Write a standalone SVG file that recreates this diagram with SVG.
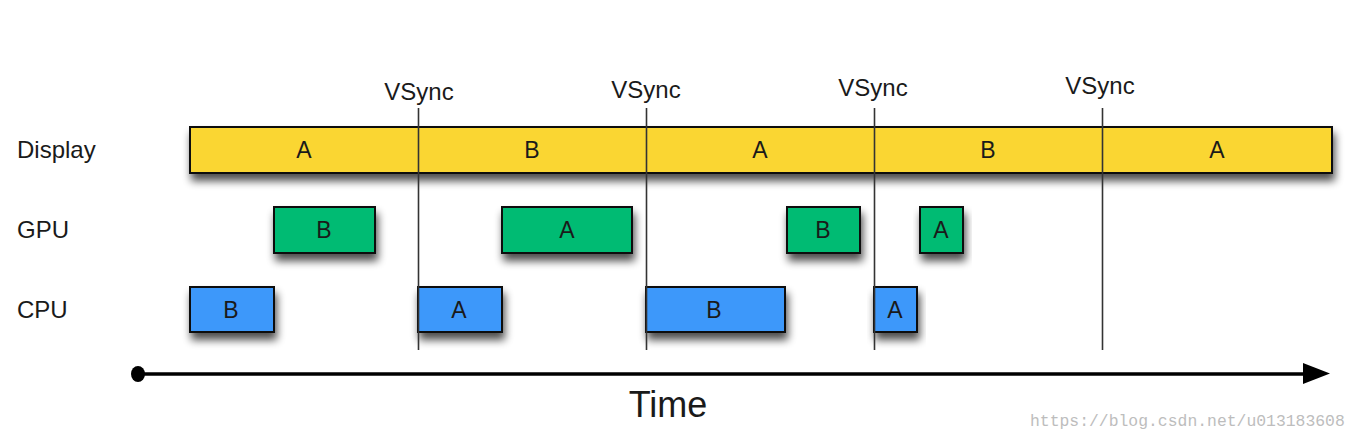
<svg xmlns="http://www.w3.org/2000/svg" width="1356" height="441" viewBox="0 0 1356 441">
<defs>
<filter id="sh" x="-20%" y="-40%" width="140%" height="200%">
<feGaussianBlur in="SourceAlpha" stdDeviation="4"/>
<feOffset dx="2" dy="7" result="b"/>
<feComponentTransfer><feFuncA type="linear" slope="0.7"/></feComponentTransfer>
<feMerge><feMergeNode/><feMergeNode in="SourceGraphic"/></feMerge>
</filter>
</defs>
<style>
text{font-family:"Liberation Sans",Arial,sans-serif;fill:#1a1a1a}
.lbl{font-size:24px}
.vs{font-size:24px;text-anchor:middle}
.box{stroke:#111;stroke-width:2}
.in{font-size:23px;text-anchor:middle}
.disp{fill:#fad630}
.gpu{fill:#00bb73}
.cpu{fill:#3d98fa}
.vl{stroke:#333;stroke-width:1.6}
</style>
<rect width="1356" height="441" fill="#fff"/>
<g id="row-labels">
<text class="lbl" x="17" y="158">Display</text>
<text class="lbl" x="17" y="238">GPU</text>
<text class="lbl" x="17" y="318">CPU</text>
</g>
<g id="display">
<rect class="box disp" x="190" y="127" width="1142" height="46" filter="url(#sh)"/>
<text class="in" x="304" y="158">A</text>
<text class="in" x="532" y="158">B</text>
<text class="in" x="760" y="158">A</text>
<text class="in" x="988" y="158">B</text>
<text class="in" x="1217" y="158">A</text>
</g>
<g id="gpu">
<g id="gpu-b1"><rect class="box gpu" x="274" y="207" width="101" height="46" filter="url(#sh)"/><text class="in" x="324" y="238">B</text></g>
<g id="gpu-a1"><rect class="box gpu" x="502" y="207" width="130" height="46" filter="url(#sh)"/><text class="in" x="567" y="238">A</text></g>
<g id="gpu-b2"><rect class="box gpu" x="787" y="207" width="73" height="46" filter="url(#sh)"/><text class="in" x="823" y="238">B</text></g>
<g id="gpu-a2"><rect class="box gpu" x="920" y="207" width="43" height="46" filter="url(#sh)"/><text class="in" x="941" y="238">A</text></g>
</g>
<g id="cpu">
<g id="cpu-b1"><rect class="box cpu" x="190" y="287" width="84" height="45" filter="url(#sh)"/><text class="in" x="231" y="318">B</text></g>
<g id="cpu-a1"><rect class="box cpu" x="418" y="287" width="84" height="45" filter="url(#sh)"/><text class="in" x="459" y="318">A</text></g>
<g id="cpu-b2"><rect class="box cpu" x="646" y="287" width="139" height="45" filter="url(#sh)"/><text class="in" x="714" y="318">B</text></g>
<g id="cpu-a2"><rect class="box cpu" x="874" y="287" width="43" height="45" filter="url(#sh)"/><text class="in" x="895" y="318">A</text></g>
</g>
<g id="vsync">
<line class="vl" x1="418.5" y1="108" x2="418.5" y2="350"/>
<line class="vl" x1="646.5" y1="108" x2="646.5" y2="350"/>
<line class="vl" x1="874.5" y1="108" x2="874.5" y2="350"/>
<line class="vl" x1="1102.5" y1="108" x2="1102.5" y2="350"/>
<text class="vs" x="419" y="100">VSync</text>
<text class="vs" x="646" y="98">VSync</text>
<text class="vs" x="873" y="96">VSync</text>
<text class="vs" x="1100" y="94">VSync</text>
</g>
<g id="time-axis">
<ellipse cx="138" cy="374" rx="7" ry="8" fill="#000"/>
<line x1="138" y1="374" x2="1306" y2="374" stroke="#000" stroke-width="3.5"/>
<polygon points="1303,363 1330,373.5 1303,384" fill="#000"/>
<text x="668" y="417" font-size="36" text-anchor="middle" fill="#000">Time</text>
</g>
<text x="1030" y="426" font-size="16.4" style="font-family:'Liberation Mono',monospace;fill:#bdbdbd">https://blog.csdn.net/u013183608</text>
</svg>
